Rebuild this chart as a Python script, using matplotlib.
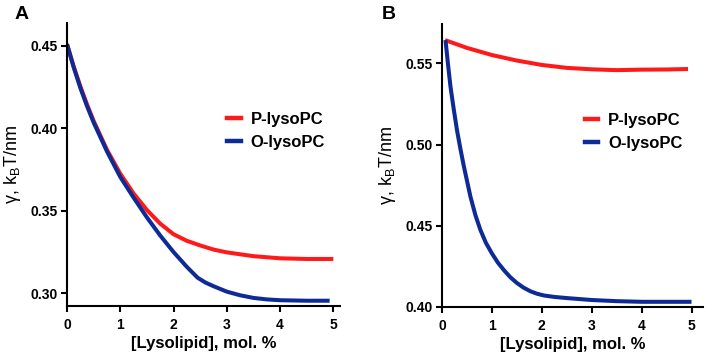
import matplotlib
matplotlib.use("Agg")
import matplotlib.pyplot as plt
from matplotlib.lines import Line2D

plt.rcParams['font.family'] = ['Liberation Sans', 'DejaVu Sans']
plt.rcParams['mathtext.fontset'] = 'custom'
plt.rcParams['mathtext.rm'] = 'Liberation Sans'
plt.rcParams['mathtext.it'] = 'Liberation Sans:italic'
plt.rcParams['mathtext.bf'] = 'Liberation Sans:bold'

# ---- data ----
labels = ["P-lysoPC", "O-lysoPC"]
colors = ["#ff1a1a", "#0d2a96"]

a_p_x = [0, 0.125, 0.25, 0.375, 0.5, 0.75, 1, 1.25, 1.5, 1.75, 2, 2.25, 2.5, 2.75, 3, 3.5, 4, 4.5, 5]
a_p_y = [0.451, 0.4375, 0.4255, 0.4145, 0.4045, 0.387, 0.3725, 0.3605, 0.3505, 0.3422, 0.3358,
         0.3318, 0.3290, 0.3265, 0.3248, 0.3225, 0.3212, 0.3208, 0.3208]
a_o_x = [0, 0.125, 0.25, 0.375, 0.5, 0.75, 1, 1.25, 1.5, 1.75, 2, 2.25, 2.45, 2.6, 2.75, 3, 3.25,
         3.5, 3.75, 4, 4.5, 4.93]
a_o_y = [0.451, 0.437, 0.4245, 0.4135, 0.4035, 0.386, 0.3705, 0.358, 0.346, 0.335, 0.325, 0.316,
         0.3095, 0.3065, 0.3043, 0.3010, 0.2988, 0.2972, 0.2963, 0.2958, 0.2955, 0.2955]

b_p_x = [0.06, 0.5, 1, 1.5, 2, 2.5, 3, 3.5, 4, 4.5, 4.93]
b_p_y = [0.5643, 0.5595, 0.5551, 0.5517, 0.549, 0.5472, 0.5463, 0.5458, 0.5461, 0.5462, 0.5465]
b_o_x = [0.07, 0.12, 0.17, 0.235, 0.30, 0.37, 0.44, 0.57, 0.67, 0.77, 0.88, 1.0, 1.12, 1.24,
         1.37, 1.5, 1.63, 1.77, 1.9, 2.04, 2.25, 2.5, 3, 3.5, 4, 4.5, 5.0]
b_o_y = [0.5643, 0.5495, 0.5356, 0.5218, 0.5089, 0.4972, 0.4863, 0.4679, 0.4565, 0.4474,
         0.4395, 0.4330, 0.4273, 0.4227, 0.4183, 0.4148, 0.4120, 0.4097, 0.4082, 0.4071,
         0.4062, 0.4055, 0.4043, 0.4036, 0.4032, 0.4032, 0.4032]

x_ticks = [0, 1, 2, 3, 4, 5]
a_yticks = [0.30, 0.35, 0.40, 0.45]
b_yticks = [0.40, 0.45, 0.50, 0.55]

W, H = 706, 354
fig = plt.figure(figsize=(W / 100, H / 100), dpi=100)

def px_axes(l, r, t, b):
    return fig.add_axes([l / W, 1 - b / H, (r - l) / W, (b - t) / H])

axA = px_axes(67, 340, 23, 306)
axB = px_axes(442, 703, 24, 307)

def style(ax, yticks):
    for s in ['top', 'right']:
        ax.spines[s].set_visible(False)
    for s in ['left', 'bottom']:
        ax.spines[s].set_linewidth(1.5)
    ax.set_xticks(x_ticks)
    ax.set_xticklabels([str(v) for v in x_ticks])
    ax.set_yticks(yticks)
    ax.set_yticklabels([f"{v:.2f}" for v in yticks])
    ax.tick_params(width=1.5, length=4.5, labelsize=10, pad=2.5)
    ax.tick_params(axis='x', pad=4)
    for lab in ax.get_xticklabels() + ax.get_yticklabels():
        lab.set_fontweight('bold')
    ax.set_xlabel("[Lysolipid], mol. %", fontsize=12, fontweight='bold', labelpad=3)
    ax.set_ylabel(r"γ, k$_\mathregular{B}$T/nm", fontsize=13, labelpad=5)

lw = 2.9
axA.plot(a_p_x, a_p_y, color=colors[0], lw=lw, solid_capstyle='butt', solid_joinstyle='round')
axA.plot(a_o_x, a_o_y, color=colors[1], lw=lw, solid_capstyle='butt', solid_joinstyle='round')
axA.set_xlim(0, 5.125)
axA.set_ylim(0.2923, 0.4638)
style(axA, a_yticks)

axB.plot(b_p_x, b_p_y, color=colors[0], lw=lw, solid_capstyle='butt', solid_joinstyle='round')
axB.plot(b_o_x, b_o_y, color=colors[1], lw=lw, solid_capstyle='butt', solid_joinstyle='round')
axB.set_xlim(0, 5.23)
axB.set_ylim(0.40, 0.5742)
style(axB, b_yticks)

handles = [Line2D([0], [0], color=c, lw=3.2) for c in colors]
for ax, xa in ((axA, 0.532), (axB, 0.49)):
    leg = ax.legend(handles, labels, loc='upper left', bbox_to_anchor=(xa, 0.739),
                    frameon=False, handlelength=0.8, handletextpad=0.6,
                    labelspacing=0.48, prop={'weight': 'bold', 'size': 12})

fig.text(15 / W, 1 - 6 / H, "A", fontsize=14, fontweight='bold', va='top', ha='left')
fig.text(382 / W, 1 - 6 / H, "B", fontsize=14, fontweight='bold', va='top', ha='left')

fig.savefig("out.png", dpi=100)
